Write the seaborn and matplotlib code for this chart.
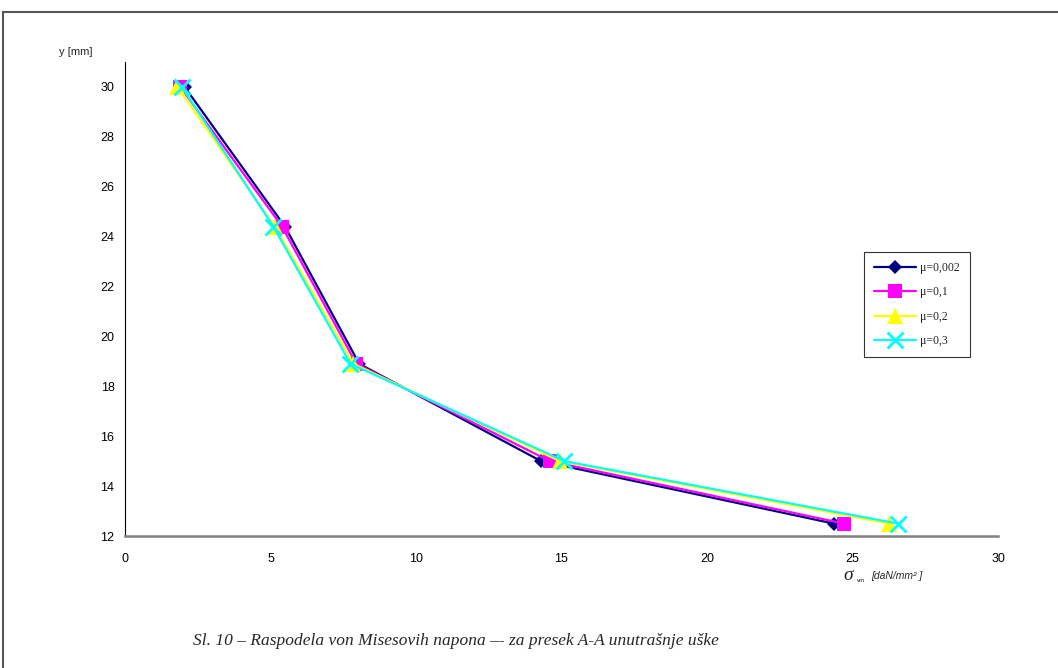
import matplotlib.pyplot as plt
import matplotlib.patches as mpatches
import seaborn as sns
import pandas as pd

# y position along the section [mm]
y_mm = [30, 24.4, 18.9, 15.0, 12.5]

# von Mises stress for each friction coefficient [daN/mm2]
sigma_002 = [2.05, 5.5, 8.05, 14.3, 24.35]
sigma_01 = [1.9, 5.4, 7.95, 14.6, 24.7]
sigma_02 = [1.8, 5.15, 7.85, 14.95, 26.25]
sigma_03 = [1.95, 5.1, 7.75, 15.1, 26.55]

series_labels = ["\u03bc=0,002", "\u03bc=0,1", "\u03bc=0,2", "\u03bc=0,3"]
x_ticks = [0, 5, 10, 15, 20, 25, 30]
y_ticks = [12, 14, 16, 18, 20, 22, 24, 26, 28, 30]

sns.set_style("white")
plt.rcParams["font.family"] = ["Liberation Sans", "DejaVu Sans"]

fig = plt.figure(figsize=(10.58, 6.68), dpi=100)
ax = fig.add_axes([0.1181, 0.1976, 0.8252, 0.7096])

styles = [
    dict(color="#000080", marker="D", markersize=7, markeredgewidth=0),
    dict(color="#FF00FF", marker="s", markersize=10, markeredgewidth=0),
    dict(color="#FFFF00", marker="^", markersize=11, markeredgewidth=0),
    dict(color="#00FFFF", marker="x", markersize=11, markeredgewidth=2),
]

for vals, lab, st in zip([sigma_002, sigma_01, sigma_02, sigma_03], series_labels, styles):
    df = pd.DataFrame({"sigma": vals, "y": y_mm})
    sns.lineplot(data=df, x="sigma", y="y", sort=False, ax=ax, label=lab,
                 linewidth=1.6, markeredgecolor=st["color"],
                 markerfacecolor=st["color"], **st)

ax.set_xlim(0, 30)
ax.set_ylim(12, 31)
ax.set_xticks(x_ticks)
ax.set_yticks(y_ticks)
ax.set_xlabel("")
ax.set_ylabel("")
ax.tick_params(axis="both", labelsize=9, colors="black", direction="out", length=4, width=0.8)
ax.tick_params(axis="x", pad=8)
for s in ["top", "right"]:
    ax.spines[s].set_visible(False)
ax.spines["left"].set_color("black")
ax.spines["left"].set_linewidth(0.8)
ax.spines["bottom"].set_color("#808080")
ax.spines["bottom"].set_linewidth(1.8)

ax.get_legend().remove()
handles, labels = ax.get_legend_handles_labels()
leg = fig.legend(handles, labels, loc="upper left", bbox_to_anchor=(0.8166, 0.6228),
                 frameon=True, fancybox=False, edgecolor="black", handlelength=3.6,
                 borderpad=0.85, labelspacing=1.05, handletextpad=0.3, borderaxespad=0,
                 prop={"family": "Liberation Serif", "size": 8.5})
leg.get_frame().set_linewidth(0.8)

fig.text(0.056, 0.922, "y [mm]", fontsize=8, ha="left", va="center")
fig.text(0.797, 0.138, "\u03c3", fontsize=14, style="italic", family="Liberation Serif",
         ha="left", va="center")
fig.text(0.810, 0.131, "vm", fontsize=4.5, ha="left", va="center")
fig.text(0.823, 0.137, "[daN/mm\u00b2 ]", fontsize=7.5, style="italic", ha="left", va="center")

fig.text(0.431, 0.041, "Sl. 10 \u2013 Raspodela von Misesovih napona \u2013- za presek A-A unutrašnje uške",
         fontsize=12.5, style="italic", family="Liberation Serif", ha="center", va="center")

frame = mpatches.Rectangle((3 / 1058, -0.1), 1.2, 1.0 - 12 / 668 + 0.1,
                           transform=fig.transFigure, fill=False,
                           edgecolor="#555555", linewidth=1.5)
fig.patches.append(frame)

fig.savefig("out.png", dpi=100)
